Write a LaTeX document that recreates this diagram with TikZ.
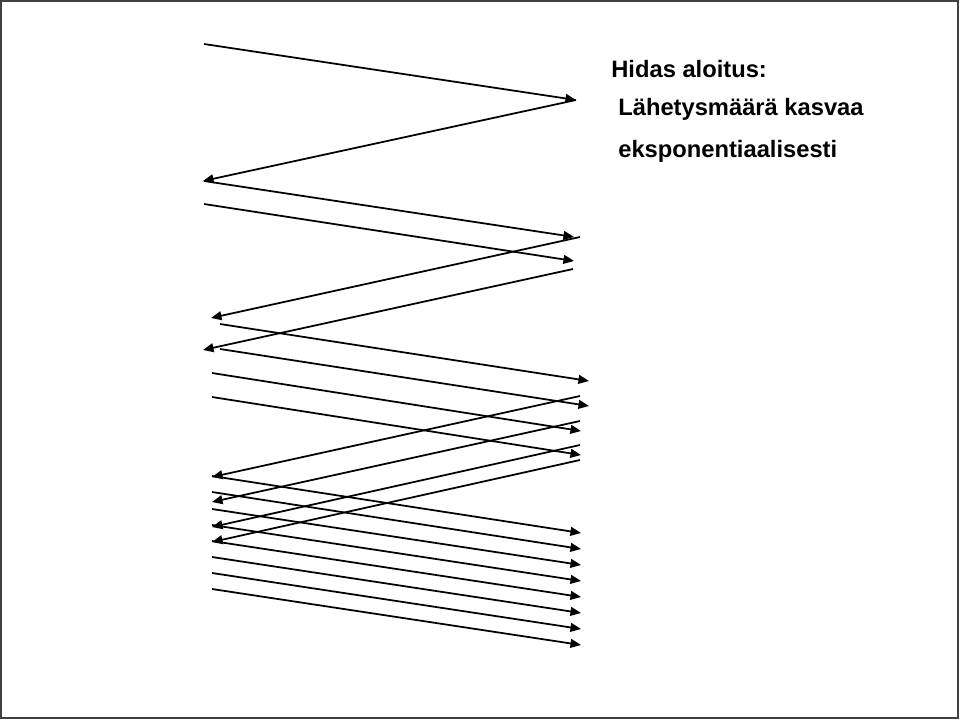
\documentclass[tikz,border=0pt]{standalone}
\usepackage{fontspec}
\setmainfont{Liberation Sans}
\usetikzlibrary{arrows.meta}

\begin{document}
\begin{tikzpicture}[x=0.02cm,y=-0.02cm,
  msg/.style={line width=1pt,-{Triangle[length=6pt,width=5pt]}},
  every node/.style={font=\fontsize{13.5}{16}\selectfont\bfseries,
                     inner sep=0pt,anchor=base west}]
  \useasboundingbox (0,0) rectangle (960,720);
  \draw[line width=0.7pt,black!75] (1,1) rectangle (958,718);

  %% Label
  \node (title) at (611,77)  {Hidas aloitus:};
  \node (line1) at (618,115) {Lähetysmäärä kasvaa};
  \node (line2) at (618,157) {eksponentiaalisesti};

  %% Round 1: one segment
  \coordinate (s1)  at (204,44);  \coordinate (r1)  at (576,100);
  \coordinate (a1)  at (203,181);
  \draw[msg] (s1) -- (r1);
  \draw[msg] (r1) -- (a1);

  %% Round 2: two segments
  \coordinate (s2)  at (204,181); \coordinate (r2)  at (574,237);
  \coordinate (s3)  at (204,204); \coordinate (r3)  at (574,261);
  \coordinate (k2)  at (580,237); \coordinate (a2)  at (211,318);
  \coordinate (k3)  at (573,269); \coordinate (a3)  at (203,350);
  \draw[msg] (s2) -- (r2);
  \draw[msg] (s3) -- (r3);
  \draw[msg] (k2) -- (a2);
  \draw[msg] (k3) -- (a3);

  %% Round 3: four segments
  \coordinate (s4)  at (220,324); \coordinate (r4)  at (589,381);
  \coordinate (s5)  at (220,349); \coordinate (r5)  at (589,406);
  \coordinate (s6)  at (212,373); \coordinate (r6)  at (581,431);
  \coordinate (s7)  at (212,397); \coordinate (r7)  at (581,455);
  \coordinate (k4)  at (580,396); \coordinate (a4)  at (212,477);
  \coordinate (k5)  at (580,421); \coordinate (a5)  at (212,502);
  \coordinate (k6)  at (580,445); \coordinate (a6)  at (212,527);
  \coordinate (k7)  at (580,460); \coordinate (a7)  at (212,542);
  \draw[msg] (s4) -- (r4);
  \draw[msg] (s5) -- (r5);
  \draw[msg] (s6) -- (r6);
  \draw[msg] (s7) -- (r7);
  \draw[msg] (k4) -- (a4);
  \draw[msg] (k5) -- (a5);
  \draw[msg] (k6) -- (a6);
  \draw[msg] (k7) -- (a7);

  %% Round 4: eight segments
  \coordinate (s8)  at (212,476); \coordinate (r8)  at (581,533);
  \coordinate (s9)  at (212,492); \coordinate (r9)  at (581,549);
  \coordinate (s10) at (212,509); \coordinate (r10) at (581,565);
  \coordinate (s11) at (212,525); \coordinate (r11) at (581,581);
  \coordinate (s12) at (212,541); \coordinate (r12) at (581,597);
  \coordinate (s13) at (212,557); \coordinate (r13) at (581,613);
  \coordinate (s14) at (212,573); \coordinate (r14) at (581,629);
  \coordinate (s15) at (212,589); \coordinate (r15) at (581,645);
  \draw[msg] (s8)  -- (r8);
  \draw[msg] (s9)  -- (r9);
  \draw[msg] (s10) -- (r10);
  \draw[msg] (s11) -- (r11);
  \draw[msg] (s12) -- (r12);
  \draw[msg] (s13) -- (r13);
  \draw[msg] (s14) -- (r14);
  \draw[msg] (s15) -- (r15);
\end{tikzpicture}
\end{document}
